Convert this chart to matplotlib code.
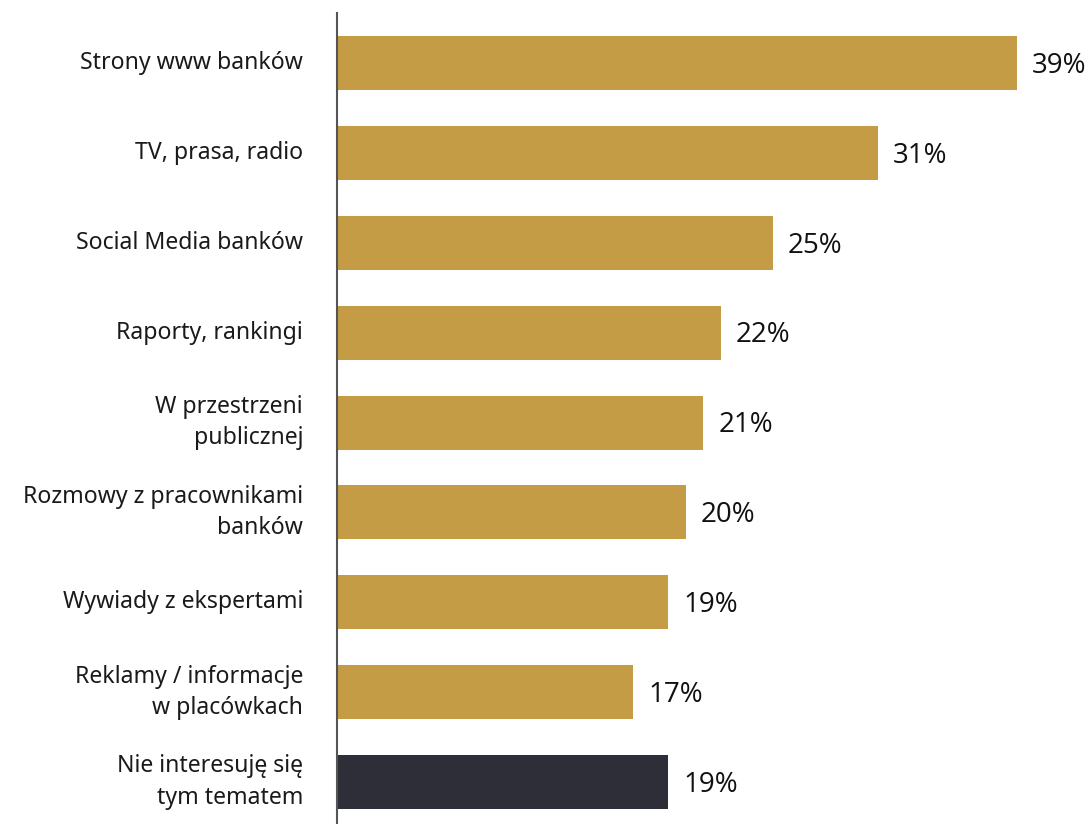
import matplotlib.pyplot as plt

# sources of information about banks (share of answers, %)
categories = ['Strony www banków', 'TV, prasa, radio', 'Social Media banków',
              'Raporty, rankingi', 'W przestrzeni\npublicznej',
              'Rozmowy z pracownikami\nbanków', 'Wywiady z ekspertami',
              'Reklamy / informacje\nw placówkach', 'Nie interesuję się\ntym tematem']
values = [39, 31, 25, 22, 21, 20, 19, 17, 19]
value_labels = ['39%', '31%', '25%', '22%', '21%', '20%', '19%', '17%', '19%']

gold = '#C49C45'
dark = '#2E2E38'
colors = [gold] * 8 + [dark]

fig = plt.figure(figsize=(10.91, 8.24), dpi=100)
ax = fig.add_axes([0.3089, 0.0, 0.6911, 0.984])

y = list(range(len(values)))
ax.barh(y, values, height=0.6, color=colors)

ax.set_ylim(8.467, -0.556)
ax.set_xlim(0, 43.24)

for yi, v, lab in zip(y, values, value_labels):
    ax.text(v + 0.86, yi + 0.03, lab, va='center', ha='left',
            fontsize=20, family='Open Sans', color='#111111')

for yi, cat in zip(y, categories):
    ax.text(-1.95, yi, cat, va='center', ha='right', fontsize=16.6,
            family='Noto Sans', color='#1a1a1a', linespacing=1.4)

ax.set_xticks([])
ax.set_yticks([])
for s in ['top', 'right', 'bottom']:
    ax.spines[s].set_visible(False)
ax.spines['left'].set_color('#555555')
ax.spines['left'].set_linewidth(1.5)

fig.savefig('out.png', dpi=100)
